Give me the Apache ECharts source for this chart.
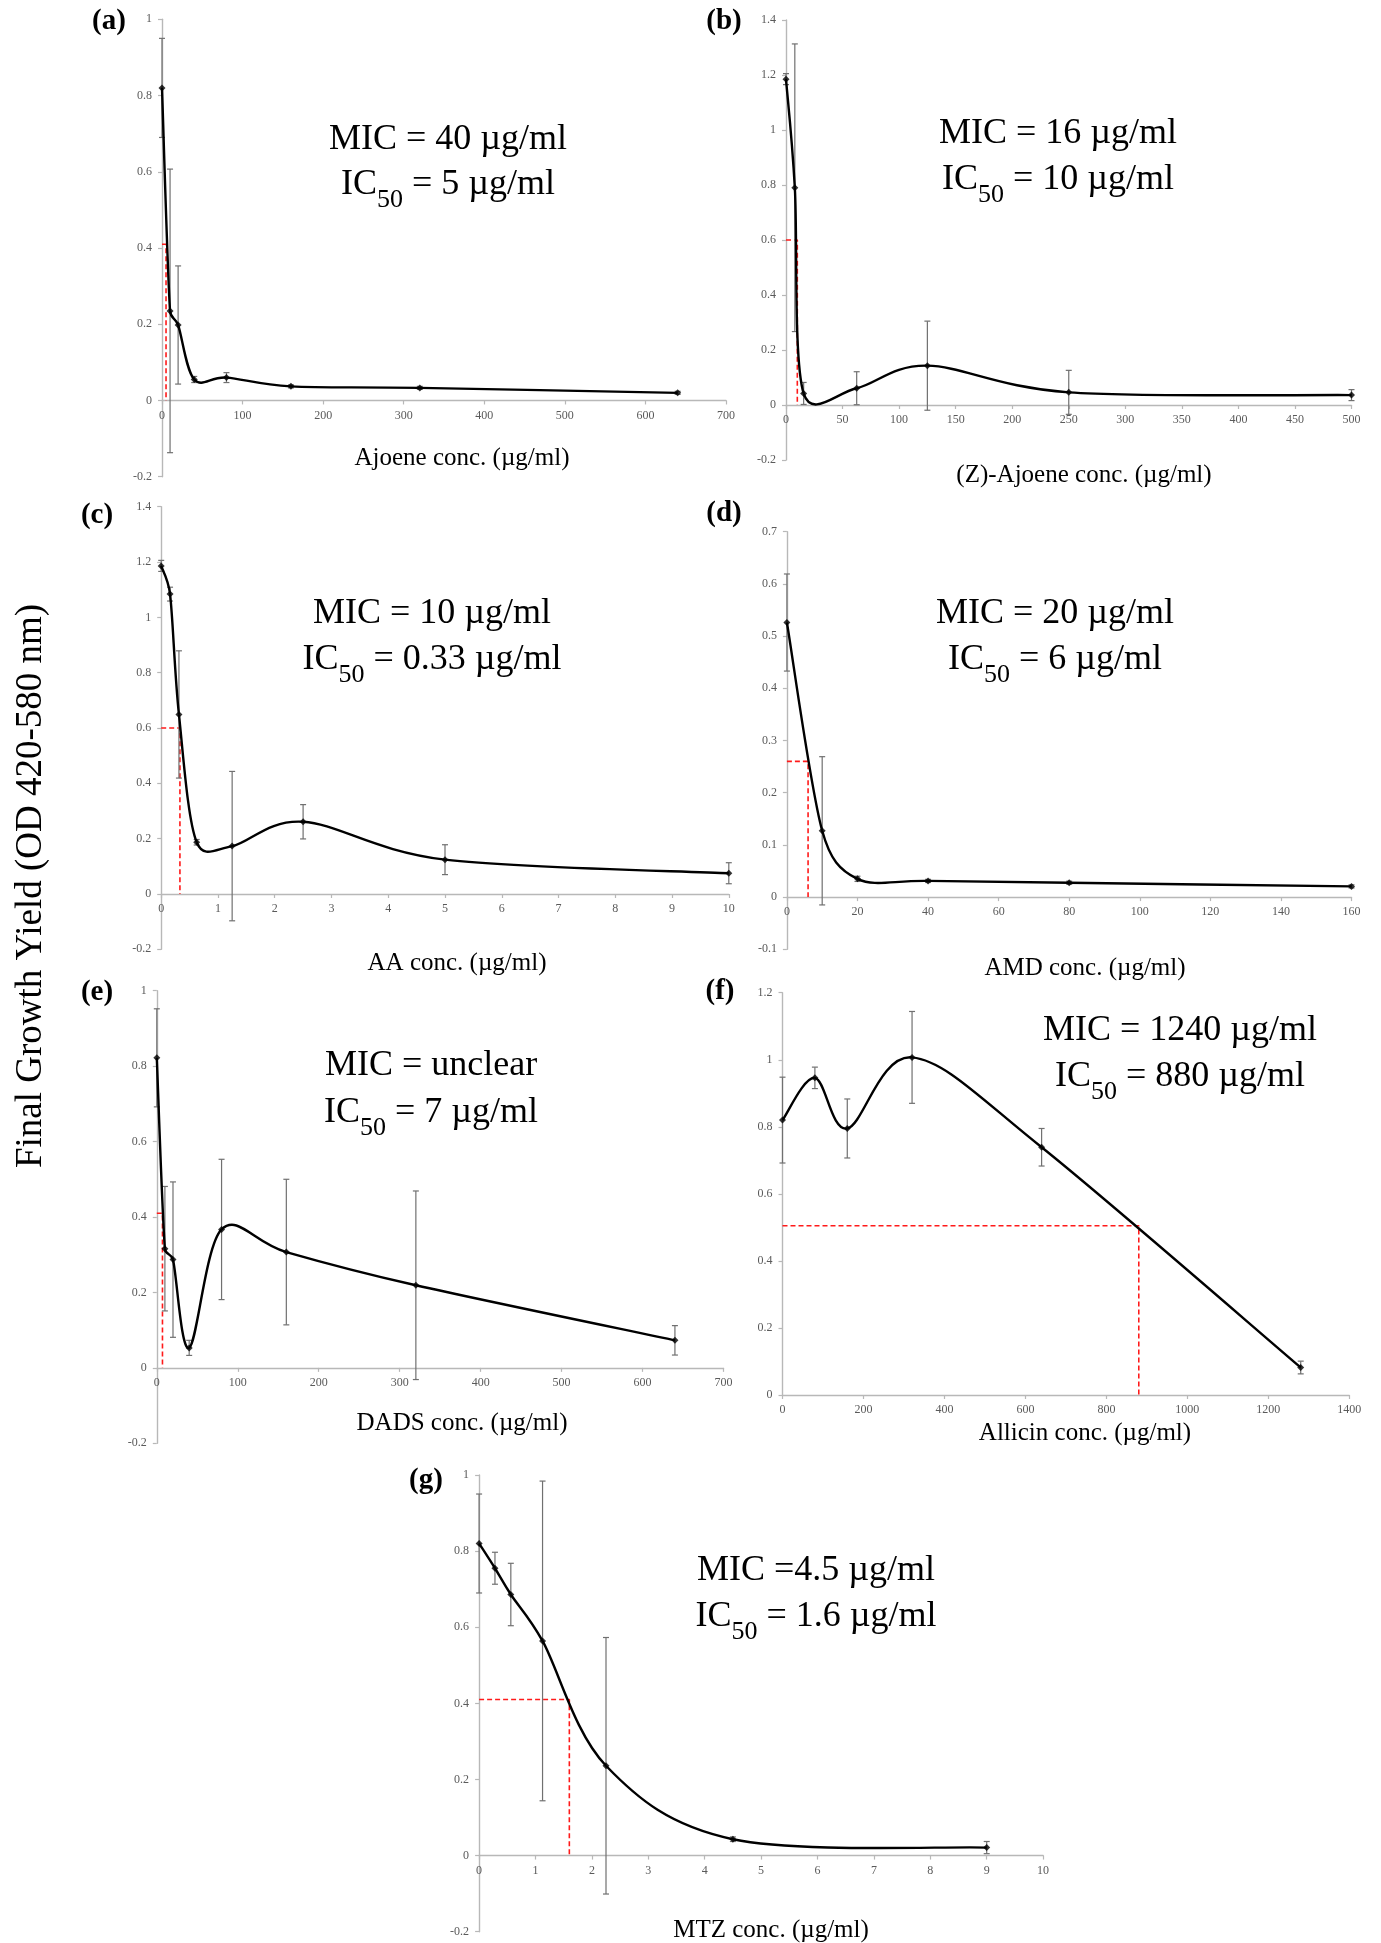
<!DOCTYPE html>
<html>
<head>
<meta charset="utf-8">
<script src="https://cdn.jsdelivr.net/npm/echarts@6/dist/echarts.min.js"></script>
<style>
  html, body { margin: 0; padding: 0; background: #ffffff; }
  #chart { width: 1381px; height: 1943px; }
</style>
</head>
<body>
<div id="chart"></div>
<script>
// ---- Measured growth yields (mean and SD) for each compound ----
// (a) Ajoene
const ajoeneConc  = [0, 10, 20, 40, 80, 160, 320, 640];
const ajoeneYield = [0.82, 0.235, 0.198, 0.055, 0.06, 0.037, 0.033, 0.02];
const ajoeneSD    = [0.13, 0.372, 0.155, 0.008, 0.013, 0.004, 0.004, 0.004];
// (b) (Z)-Ajoene
const zAjoeneConc  = [0, 7.8, 15.6, 62.5, 125, 250, 500];
const zAjoeneYield = [1.185, 0.79, 0.042, 0.061, 0.143, 0.046, 0.036];
const zAjoeneSD    = [0.02, 0.523, 0.04, 0.06, 0.162, 0.08, 0.02];
// (c) AA
const aaConc  = [0, 0.156, 0.3125, 0.625, 1.25, 2.5, 5, 10];
const aaYield = [1.186, 1.084, 0.649, 0.187, 0.173, 0.261, 0.124, 0.075];
const aaSD    = [0.02, 0.025, 0.23, 0.01, 0.27, 0.062, 0.054, 0.038];
// (d) AMD
const amdConc  = [0, 10, 20, 40, 80, 160];
const amdYield = [0.526, 0.127, 0.035, 0.031, 0.0275, 0.0205];
const amdSD    = [0.093, 0.142, 0.005, 0.003, 0.003, 0.003];
// (e) DADS
const dadsConc  = [0, 10, 20, 40, 80, 160, 320, 640];
const dadsYield = [0.822, 0.316, 0.287, 0.053, 0.367, 0.307, 0.219, 0.073];
const dadsSD    = [0.13, 0.165, 0.206, 0.02, 0.186, 0.193, 0.25, 0.039];
// (f) Allicin
const allicinConc  = [0, 80, 160, 320, 640, 1280];
const allicinYield = [0.82, 0.946, 0.795, 1.007, 0.739, 0.082];
const allicinSD    = [0.128, 0.032, 0.088, 0.137, 0.056, 0.019];
// (g) MTZ
const mtzConc  = [0, 0.28125, 0.5625, 1.125, 2.25, 4.5, 9];
const mtzYield = [0.82, 0.755, 0.686, 0.564, 0.236, 0.043, 0.021];
const mtzSD    = [0.13, 0.042, 0.082, 0.42, 0.337, 0.006, 0.016];

// ---- Axis ranges: [min, max, interval] ----
const xRanges = [[0, 700, 100], [0, 500, 50], [0, 10, 1], [0, 160, 20], [0, 700, 100], [0, 1400, 200], [0, 10, 1]];
const yRanges = [[-0.2, 1, 0.2], [-0.2, 1.4, 0.2], [-0.2, 1.4, 0.2], [-0.1, 0.7, 0.1], [-0.2, 1, 0.2], [0, 1.2, 0.2], [-0.2, 1, 0.2]];

// ---- Text ----
const panelTags = ['(a)', '(b)', '(c)', '(d)', '(e)', '(f)', '(g)'];
const xTitles = ['Ajoene conc. (µg/ml)', '(Z)-Ajoene conc. (µg/ml)', 'AA conc. (µg/ml)', 'AMD conc. (µg/ml)',
                 'DADS conc. (µg/ml)', 'Allicin conc. (µg/ml)', 'MTZ conc. (µg/ml)'];
const micLabels = ['MIC = 40 µg/ml', 'MIC = 16 µg/ml', 'MIC = 10 µg/ml', 'MIC = 20 µg/ml',
                   'MIC = unclear', 'MIC = 1240 µg/ml', 'MIC =4.5 µg/ml'];
// IC50 concentration and the half-maximal yield level marked by the red guides
const ic50Values = [5, 10, 0.33, 6, 7, 880, 1.6];
const ic50Levels = [0.41, 0.6, 0.6, 0.26, 0.41, 0.505, 0.41];
const yTitle = 'Final Growth Yield (OD 420-580 nm)';

const panels = [
  [ajoeneConc, ajoeneYield, ajoeneSD],
  [zAjoeneConc, zAjoeneYield, zAjoeneSD],
  [aaConc, aaYield, aaSD],
  [amdConc, amdYield, amdSD],
  [dadsConc, dadsYield, dadsSD],
  [allicinConc, allicinYield, allicinSD],
  [mtzConc, mtzYield, mtzSD]
];

// ---- Layout (pixels) ----
const gridBoxes = [
  { left: 162,   top: 19.3,  width: 564,   height: 457.4 },
  { left: 786,   top: 20,    width: 565.5, height: 440 },
  { left: 161.2, top: 506.7, width: 567.6, height: 442.6 },
  { left: 786.9, top: 531.7, width: 564.6, height: 417.6 },
  { left: 156.8, top: 990.7, width: 566.7, height: 452.6 },
  { left: 782.5, top: 992.7, width: 566.8, height: 402.3 },
  { left: 479.1, top: 1475,  width: 564,   height: 456.7 }
];
const tagPos   = [[109, 22], [724, 22], [97, 516], [724, 514], [97, 993], [720, 992], [426, 1481]];
const notePos  = [[448, 139.7, 167], [1058, 134, 162], [432, 614, 642], [1055, 614, 642],
                  [431, 1065.7, 1095], [1180, 1030.7, 1059], [816, 1570.7, 1599]];
const titlePos = [[462, 458], [1084, 475], [457, 963], [1085, 968], [462, 1423], [1085, 1433], [771, 1930]];

const FONT = '"Liberation Serif", "Times New Roman", serif';
const AXIS_COLOR = '#b8b8b8';

function fmt(v) { return String(Math.round(v * 1000) / 1000); }

// Smoothed line through the points: cubic Bezier segments with
// Catmull-Rom tangents (1/6 of the neighbour chord), each control arm
// limited to half of its own segment length (pixel space).
function curveRenderer(xs, ys) {
  const n = xs.length;
  return function (params, api) {
    const i = params.dataIndex;
    if (i >= n - 1) return null;
    const P = k => { const j = Math.max(0, Math.min(n - 1, k)); return api.coord([xs[j], ys[j]]); };
    function arm(a, b, segA, segB) {
      let vx = (b[0] - a[0]) / 6, vy = (b[1] - a[1]) / 6;
      const len = Math.hypot(vx, vy);
      const lim = Math.hypot(segB[0] - segA[0], segB[1] - segA[1]) / 2;
      if (len > lim && len > 0) { vx *= lim / len; vy *= lim / len; }
      return [vx, vy];
    }
    const p0 = P(i - 1), p1 = P(i), p2 = P(i + 1), p3 = P(i + 2);
    const a1 = arm(p0, p2, p1, p2);
    const a2 = arm(p1, p3, p1, p2);
    return {
      type: 'bezierCurve',
      shape: {
        x1: p1[0], y1: p1[1], x2: p2[0], y2: p2[1],
        cpx1: p1[0] + a1[0], cpy1: p1[1] + a1[1],
        cpx2: p2[0] - a2[0], cpy2: p2[1] - a2[1]
      },
      style: { stroke: '#000000', lineWidth: 2.4, fill: null }
    };
  };
}

function errorBarRenderer(params, api) {
  const x = api.value(0);
  const top = api.coord([x, api.value(2)]);
  const bot = api.coord([x, api.value(1)]);
  const cap = 3;
  const st = { stroke: '#707070', lineWidth: 1.2 };
  return {
    type: 'group',
    children: [
      { type: 'line', shape: { x1: top[0], y1: top[1], x2: bot[0], y2: bot[1] }, style: st },
      { type: 'line', shape: { x1: top[0] - cap, y1: top[1], x2: top[0] + cap, y2: top[1] }, style: st },
      { type: 'line', shape: { x1: bot[0] - cap, y1: bot[1], x2: bot[0] + cap, y2: bot[1] }, style: st }
    ]
  };
}

const grid = [], xAxis = [], yAxis = [], series = [], graphic = [];

panels.forEach(([xs, ys, sd], k) => {
  const box = gridBoxes[k];
  const yr = yRanges[k];
  grid.push(Object.assign({ containLabel: false, outerBoundsMode: 'none' }, box));
  const axisBase = {
    gridIndex: k, type: 'value',
    axisLine: { show: true, onZero: false, lineStyle: { color: AXIS_COLOR, width: 1.4 } },
    axisTick: { show: true, length: 4, lineStyle: { color: AXIS_COLOR, width: 1.2 } },
    axisLabel: { show: true, color: '#5a5a5a', fontFamily: FONT, fontSize: 12, formatter: fmt,
                 showMinLabel: true, showMaxLabel: true },
    splitLine: { show: false }
  };
  // the x axis sits on the zero line of the y axis
  const zeroOffset = -box.height * (0 - yr[0]) / (yr[1] - yr[0]);
  xAxis.push(echarts.util.merge({ position: 'bottom', offset: zeroOffset,
                                  min: xRanges[k][0], max: xRanges[k][1], interval: xRanges[k][2],
                                  axisLabel: { margin: 9 } }, axisBase, true));
  yAxis.push(echarts.util.merge({ position: 'left', min: yr[0], max: yr[1], interval: yr[2],
                                  axisLabel: { margin: 10 } }, axisBase, true));

  const pts = xs.map((x, i) => [x, ys[i]]);

  // IC50 guide: from the y axis across to the curve, then down to the x axis
  series.push({
    type: 'line', xAxisIndex: k, yAxisIndex: k, symbol: 'none', silent: true, z: 2,
    data: [[0, ic50Levels[k]], [ic50Values[k], ic50Levels[k]], [ic50Values[k], 0]],
    lineStyle: { color: '#ff1a1a', width: 1.6, type: [5, 3] }
  });
  series.push({
    type: 'custom', xAxisIndex: k, yAxisIndex: k, silent: true, z: 3, clip: false,
    data: xs.map((x, i) => [x, ys[i] - sd[i], ys[i] + sd[i]]),
    encode: { x: 0, y: [1, 2] },
    renderItem: errorBarRenderer
  });
  series.push({
    type: 'custom', xAxisIndex: k, yAxisIndex: k, silent: true, z: 4, clip: false,
    data: pts, encode: { x: 0, y: 1 },
    renderItem: curveRenderer(xs, ys)
  });
  series.push({
    type: 'scatter', xAxisIndex: k, yAxisIndex: k, silent: true, z: 5,
    data: pts, symbol: 'diamond', symbolSize: 7,
    itemStyle: { color: '#000000' }
  });

  graphic.push({ type: 'text', x: tagPos[k][0], y: tagPos[k][1], silent: true,
    style: { text: panelTags[k], fontFamily: FONT, fontSize: 29, fontWeight: 'bold', fill: '#000',
             align: 'center', verticalAlign: 'middle' } });
  graphic.push({ type: 'text', x: notePos[k][0], y: notePos[k][1], silent: true,
    style: { text: micLabels[k], fontFamily: FONT, fontSize: 36, fill: '#000',
             align: 'center', verticalAlign: 'middle' } });
  graphic.push({ type: 'text', x: notePos[k][0], y: notePos[k][2], silent: true,
    style: { text: '{m|IC}{s|50}{m| = ' + ic50Values[k] + ' µg/ml}',
             align: 'center', verticalAlign: 'top',
             rich: {
               m: { fontFamily: FONT, fontSize: 36, lineHeight: 44, verticalAlign: 'top', fill: '#000' },
               s: { fontFamily: FONT, fontSize: 26, lineHeight: 26, padding: [20, 0, 0, 0], verticalAlign: 'top', fill: '#000' }
             } } });
  graphic.push({ type: 'text', x: titlePos[k][0], y: titlePos[k][1], silent: true,
    style: { text: xTitles[k], fontFamily: FONT, fontSize: 25, fill: '#000',
             align: 'center', verticalAlign: 'middle' } });
});

graphic.push({ type: 'text', x: 31, y: 886, rotation: Math.PI / 2, silent: true,
  style: { text: yTitle, fontFamily: FONT, fontSize: 37, fill: '#000', align: 'center', verticalAlign: 'middle' } });

const chart = echarts.init(document.getElementById('chart'), null, { renderer: 'canvas', width: 1381, height: 1943 });
chart.setOption({
  backgroundColor: '#ffffff',
  animation: false,
  grid: grid,
  xAxis: xAxis,
  yAxis: yAxis,
  series: series,
  graphic: graphic
});
</script>
</body>
</html>
